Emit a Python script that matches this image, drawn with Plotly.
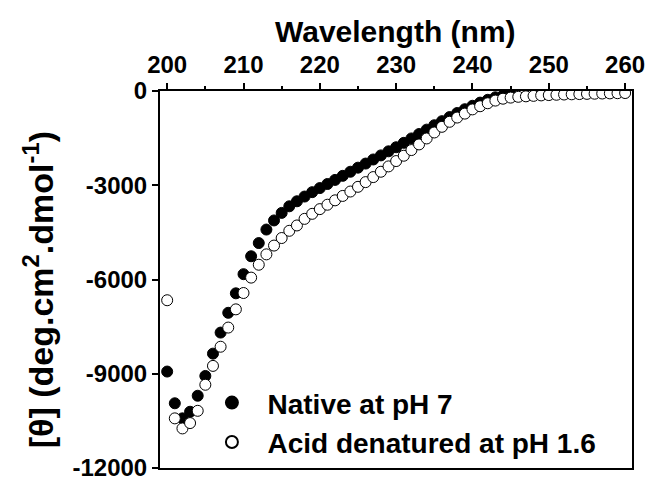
import plotly.graph_objects as go

# Far-UV CD spectra (mean residue ellipticity vs wavelength)
wl_native = list(range(200, 246))
theta_native = [
    -8930, -9940, -10420, -10210, -9700, -9070, -8360, -7690, -7060, -6440,
    -5830, -5260, -4840, -4410, -4120, -3880, -3670, -3510, -3360, -3220,
    -3090, -2960, -2830, -2700, -2570, -2440, -2310, -2180, -2050, -1920,
    -1790, -1650, -1510, -1370, -1230, -1090, -960, -830, -700, -580,
    -470, -370, -280, -200, -140, -90,
]

wl_acid = list(range(200, 261))
theta_acid = [
    -6660, -10420, -10740, -10570, -10180, -9350, -8750, -8140, -7530, -6950,
    -6430, -5940, -5530, -5200, -4920, -4680, -4450, -4280, -4070, -3910,
    -3760, -3620, -3480, -3340, -3200, -3050, -2900, -2740, -2570, -2400,
    -2230, -2060, -1880, -1700, -1510, -1320, -1140, -980, -845, -720,
    -585, -485, -390, -305, -245, -210, -185, -170, -155, -140,
    -130, -120, -112, -105, -98, -92, -86, -80, -75, -70, -65,
]

x_ticks = [200, 210, 220, 230, 240, 250, 260]
y_ticks = [0, -3000, -6000, -9000, -12000]
y_ticktext = ["0", "-3000", "-6000", "-9000", "-12000"]

FONT = "Liberation Sans, Arial, sans-serif"
PAD = "\u00a0\u00a0"

fig = go.Figure()
fig.add_trace(go.Scatter(
    x=wl_native, y=theta_native, mode="markers",
    name=f"{PAD}<b>Native at pH 7</b>",
    marker=dict(symbol="circle", size=11, color="black",
                line=dict(color="black", width=1)),
))
fig.add_trace(go.Scatter(
    x=wl_acid, y=theta_acid, mode="markers",
    name=f"{PAD}<b>Acid denatured at pH 1.6</b>",
    marker=dict(symbol="circle", size=11, color="white",
                line=dict(color="black", width=1)),
))

fig.update_layout(
    width=654, height=477,
    margin=dict(l=160, r=22, t=91, b=9, autoexpand=False),
    paper_bgcolor="white", plot_bgcolor="white",
    font=dict(family=FONT, color="black"),
    showlegend=True,
    legend=dict(
        x=0.11, y=0.239, xanchor="left", yanchor="top",
        bgcolor="rgba(0,0,0,0)", borderwidth=0,
        font=dict(family=FONT, size=28, color="black"),
        itemsizing="constant",
    ),
    xaxis=dict(
        side="top", range=[199.06, 260.9], automargin=False,
        tickvals=x_ticks, ticktext=[f"<b>{v}</b>" for v in x_ticks],
        ticks="outside", ticklen=6, tickwidth=2, tickcolor="black",
        minor=dict(dtick=5, tick0=200, ticks="outside", ticklen=3,
                   tickwidth=1.5, tickcolor="black"),
        showline=True, linewidth=2, linecolor="black", mirror=True,
        showgrid=False, zeroline=False,
        tickfont=dict(family=FONT, size=24, color="black"),
        ticklabeloverflow="allow",
    ),
    yaxis=dict(
        range=[-12000, 0], automargin=False,
        tickvals=y_ticks, ticktext=[f"<b>{t}</b>" for t in y_ticktext],
        ticks="outside", ticklen=6, tickwidth=2, tickcolor="black",
        showline=True, linewidth=2, linecolor="black", mirror=True,
        showgrid=False, zeroline=False,
        tickfont=dict(family=FONT, size=24, color="black"),
        ticklabeloverflow="allow",
    ),
    annotations=[
        dict(text="<b>Wavelength (nm)</b>", xref="paper", yref="paper",
             x=0.498, y=1.157, xanchor="center", yanchor="middle",
             showarrow=False, font=dict(family=FONT, size=30, color="black")),
        dict(text="<b>[θ] (deg.cm<sup>2</sup>.dmol<sup>-1</sup>)</b>",
             xref="paper", yref="paper", x=-0.258, y=0.472,
             xanchor="center", yanchor="middle", textangle=-90,
             showarrow=False, font=dict(family=FONT, size=34, color="black")),
    ],
)

fig.write_html("out.html")
